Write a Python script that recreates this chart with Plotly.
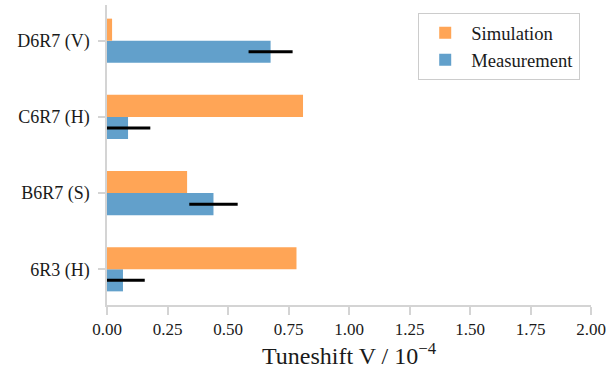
import plotly.graph_objects as go

categories = ["6R3 (H)", "B6R7 (S)", "C6R7 (H)", "D6R7 (V)"]
simulation = [0.783, 0.331, 0.810, 0.021]
measurement = [0.066, 0.440, 0.087, 0.676]
measurement_err = [0.09, 0.10, 0.092, 0.091]
x_ticks = [0.0, 0.25, 0.5, 0.75, 1.0, 1.25, 1.5, 1.75, 2.0]
x_tick_labels = ["0.00", "0.25", "0.50", "0.75", "1.00", "1.25", "1.50", "1.75", "2.00"]

FONT = "Liberation Serif"
SPINE = "#d4d4d4"
TXT = "#1a1a1a"

fig = go.Figure()
fig.add_trace(go.Bar(
    y=categories, x=measurement, orientation="h", name="Measurement",
    marker=dict(color="#62A0CB", line=dict(width=0)),
    error_x=dict(type="data", array=measurement_err, color="black",
                 thickness=3, width=0),
))
fig.add_trace(go.Bar(
    y=categories, x=simulation, orientation="h", name="Simulation",
    marker=dict(color="#FFA556", line=dict(width=0)),
))

fig.update_layout(
    width=611, height=374,
    margin=dict(l=107, r=20, t=5, b=69, autoexpand=False),
    paper_bgcolor="white", plot_bgcolor="white",
    barmode="group", bargap=0.42, bargroupgap=0,
    font=dict(family=FONT, size=17, color=TXT),
    showlegend=True,
    legend=dict(
        traceorder="reversed",
        x=0.643, y=0.973, xanchor="left", yanchor="top",
        bgcolor="white", bordercolor="#cccccc", borderwidth=1,
        font=dict(family=FONT, size=18.6, color=TXT),
        itemwidth=42, tracegroupgap=0,
    ),
    xaxis=dict(
        range=[0, 2.0], tickvals=x_ticks, ticktext=x_tick_labels,
        showgrid=False, zeroline=False,
        showline=True, linecolor=SPINE, linewidth=1.5,
        ticks="outside", ticklen=8, tickcolor=SPINE, tickwidth=1.5,
        tickfont=dict(family=FONT, size=17, color=TXT),
        title=dict(text="Tuneshift V / 10<sup>−4</sup>",
                   font=dict(family=FONT, size=24, color=TXT),
                   standoff=8),
    ),
    yaxis=dict(
        range=[-0.469, 3.469],
        showgrid=False, zeroline=False,
        showline=True, linecolor=SPINE, linewidth=1.5,
        ticks="outside", ticklen=7, tickcolor=SPINE, tickwidth=1.5,
        ticklabelstandoff=5,
        tickfont=dict(family=FONT, size=18, color=TXT),
    ),
)

fig.write_html("out.html", config={"displayModeBar": False},
               post_script="document.body.style.margin='0';")
